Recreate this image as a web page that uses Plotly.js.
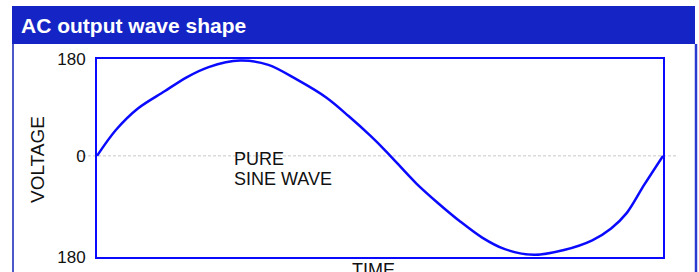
<!DOCTYPE html>
<html>
<head>
<meta charset="utf-8">
<script src="https://cdn.plot.ly/plotly-3.0.1.min.js"></script>
<style>html,body{margin:0;padding:0;background:#fff;}#chart{width:699px;height:272px;}</style>
</head>
<body>
<div id="chart"></div>
<script>
// phase angle (degrees) along the time axis
var phase = [0, 12, 26, 43, 57, 71, 91, 109, 127, 146, 160, 174, 184, 203, 217, 231, 245, 259, 278, 297, 315, 327, 337, 348, 360];
// voltage values
var voltage = [0, 48, 88, 120, 146, 165, 177, 169, 142, 108, 74, 37, 8, -51, -88, -122, -152, -173, -184, -175, -157, -135, -106, -54, 0];
var yTickVals = [-188, 0, 180];
var yTickText = ["180", "0", "180"];
var titleText = "AC output wave shape";
var yTitle = "VOLTAGE";
var xTitle = "TIME";
var noteLines = ["PURE", "SINE WAVE"];

var W = 699, H = 272, L = 97, R = 663, T = 59, B = 257;
function px(x){ return (x - L) / (R - L); }
function py(y){ return (B - y) / (B - T); }
var font = "Arial, 'Liberation Sans', sans-serif";
var blue = "#0a0aff";

var trace = {
  x: phase, y: voltage, type: "scatter", mode: "lines",
  line: {color: blue, width: 2.5, shape: "spline", smoothing: 0.9},
  hoverinfo: "skip"
};

var layout = {
  width: W, height: H,
  margin: {l: L, r: W - R, t: T, b: H - B, pad: 0},
  paper_bgcolor: "#fff", plot_bgcolor: "#fff",
  showlegend: false,
  xaxis: {range: [0, 360], showgrid: false, zeroline: false, showticklabels: false, ticks: "",
          showline: true, linecolor: blue, linewidth: 2, mirror: true, fixedrange: true},
  yaxis: {range: [-188, 180], showgrid: false, zeroline: false,
          tickmode: "array", tickvals: yTickVals, ticktext: yTickText,
          ticks: "outside", ticklen: 6, tickcolor: "rgba(0,0,0,0)",
          tickfont: {family: font, size: 17, color: "#111"},
          showline: true, linecolor: blue, linewidth: 2, mirror: true, fixedrange: true},
  shapes: [
    {type: "rect", xref: "paper", yref: "paper", x0: px(12), x1: px(695), y0: py(44), y1: py(6),
     fillcolor: "#1525c5", line: {width: 0}, layer: "above"},
    {type: "line", xref: "paper", yref: "paper", x0: px(13), x1: px(13), y0: py(44), y1: py(272),
     line: {color: "#4a58c8", width: 2}},
    {type: "line", xref: "paper", yref: "paper", x0: px(696), x1: px(696), y0: py(44), y1: py(272),
     line: {color: "#2a3ad0", width: 2.5}},
    {type: "line", xref: "paper", yref: "y", x0: px(78), x1: px(678), y0: 0, y1: 0,
     line: {color: "#c8c8c8", width: 1, dash: "3px,2px"}, layer: "below"}
  ],
  annotations: [
    {text: "<b>" + titleText + "</b>", xref: "paper", yref: "paper", x: px(19), y: py(26),
     xanchor: "left", yanchor: "middle", showarrow: false,
     font: {family: font, size: 21, color: "#fff"}},
    {text: yTitle, xref: "paper", yref: "paper", x: px(37), y: py(160), textangle: -90,
     xanchor: "center", yanchor: "middle", showarrow: false,
     font: {family: font, size: 19, color: "#111"}},
    {text: xTitle, xref: "paper", yref: "paper", x: px(373), y: py(258),
     xanchor: "center", yanchor: "top", showarrow: false,
     font: {family: font, size: 18, color: "#111"}},
    {text: noteLines[0], xref: "paper", yref: "paper", x: px(232), y: py(159),
     xanchor: "left", yanchor: "middle", showarrow: false,
     font: {family: font, size: 18, color: "#111"}},
    {text: noteLines[1], xref: "paper", yref: "paper", x: px(232), y: py(179),
     xanchor: "left", yanchor: "middle", showarrow: false,
     font: {family: font, size: 18, color: "#111"}}
  ]
};

Plotly.newPlot("chart", [trace], layout, {displayModeBar: false, staticPlot: true});
</script>
</body>
</html>
